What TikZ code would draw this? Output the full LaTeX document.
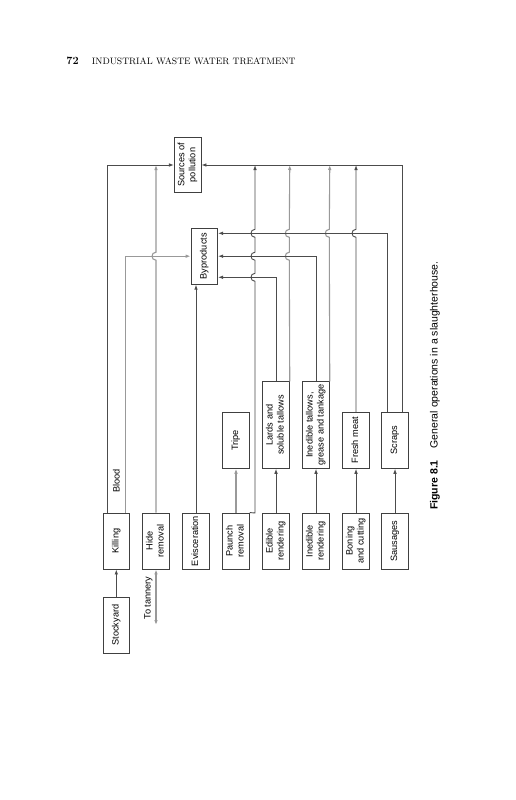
\documentclass[tikz,border=0pt]{standalone}
\usepackage{fontspec}
\usepackage{graphicx}
\newfontfamily\lsans{Liberation Sans}
\usetikzlibrary{arrows.meta,calc}
\newcommand\rt[1]{\rotatebox{90}{\begin{tabular}{@{}c@{}}#1\end{tabular}}}
\newcommand\brg[2]{-- (#1,#2+4) .. controls (#1-5.3,#2+4) and (#1-5.3,#2-4) .. (#1,#2-4)}
\begin{document}
\begin{tikzpicture}[x=1pt,y=-1pt,
  box/.style={draw=black!75, line width=0.9pt, minimum width=26.6pt, minimum height=56pt, inner sep=0pt, font=\lsans\fontsize{9.2}{11}\selectfont},
  ln/.style={draw=black!70, line width=0.9pt},
  lt/.style={draw=black!40, line width=1.1pt},
  arr/.style={-{Latex[length=5pt,width=3.6pt]}},
  lbl/.style={font=\lsans\fontsize{9.2}{11}\selectfont, rotate=90, inner sep=0pt},
]
\useasboundingbox[fill=white] (0,0) rectangle (516,800);

% header
\node[anchor=base west, inner sep=0pt] (pg) at (66.2,65) {\fontsize{11}{13}\selectfont\bfseries 72};
\node[anchor=base west, inner sep=0pt] (hd) at (91.7,65) {\fontsize{9.3}{11}\selectfont INDUSTRIAL WASTE WATER TREATMENT};

% boxes
\node[box] (stock) at (116.3,625) {\rt{Stockyard}};
\node[box] (kill) at (116.3,541) {\rt{Killing}};
\node[box] (hide) at (156,541) {\rt{Hide\\removal}};
\node[box] (evis) at (196,541) {\rt{Evisceration}};
\node[box] (paunch) at (236,541) {\rt{Paunch\\removal}};
\node[box] (edible) at (276,541) {\rt{Edible\\rendering}};
\node[box] (inedr) at (316,541) {\rt{Inedible\\rendering}};
\node[box] (boning) at (356,541) {\rt{Boning\\and cutting}};
\node[box] (saus) at (395,541) {\rt{Sausages}};
\node[box] (tripe) at (236,440.3) {\rt{Tripe}};
\node[box, minimum height=86.6pt] (lards) at (276,425) {\rt{Lards and\\soluble tallows}};
\node[box, minimum height=86.6pt] (inedt) at (316,425) {\rt{Inedible tallows,\\grease and tankage}};
\node[box] (fresh) at (356,440.3) {\rt{Fresh meat}};
\node[box] (scraps) at (395,440.3) {\rt{Scraps}};
\node[box] (byp) at (204.3,256.2) {\rt{Byproducts}};
\node[box, minimum height=55.4pt] (src) at (187.7,165) {\rt{Sources of\\pollution}};

\coordinate (bA) at ($(byp.east)+(0,-22.9)$);
\coordinate (bC) at ($(byp.east)+(0,21.1)$);
\coordinate (tan) at (156,625);

% labels
\node[lbl] (blood) at (116.3,481) {Blood};
\node[lbl] (tanl) at (148.5,598) {To tannery};

% connectors
\draw[ln,arr] (stock) -- (kill);
\draw[ln,arr] ($(kill.north west)+(4.4,0)$) |- (src.west);
\draw[lt,arr] ($(kill.north east)+(-4.3,0)$) |- (byp.west);
\draw[lt,arr] (hide.north) \brg{156}{256.2} -- (hide.north |- src);
\draw[lt,{Latex[length=5pt,width=3.6pt]}-{Latex[length=5pt,width=3.6pt]}] (hide.south) -- (tan);
\draw[ln,arr] (evis.north) -- (evis.north |- byp.south);
\draw[lt,arr] (paunch) -- (tripe);
\draw[ln,arr] (paunch.north east) -- (255,513) \brg{255}{277.3} \brg{255}{256.2} \brg{255}{233.3} -- (255,165);
\draw[ln,arr] (edible) -- (lards);
\draw[ln,arr] (lards.north) |- (bC);
\draw[lt,arr] (lards.north east) \brg{289.3}{256.2} \brg{289.3}{233.3} -- (lards.north east |- src);
\draw[ln,arr] (inedr) -- (inedt);
\draw[ln,arr] (inedt.north) |- (byp.east);
\draw[lt,arr] (inedt.north east) \brg{329.3}{233.3} -- (inedt.north east |- src);
\draw[ln,arr] (boning) -- (fresh);
\draw[ln,arr] (fresh.north) \brg{356}{233.3} -- (fresh.north |- src);
\draw[ln,arr] (saus) -- (scraps);
\draw[ln,arr] ($(scraps.north west)+(6.6,0)$) |- (bA);
\draw[ln,arr] ($(scraps.north east)+(-6,0)$) |- (src.east);

% caption
\node[rotate=90, anchor=base west, inner sep=0pt, font=\lsans\fontsize{10.5}{12}\selectfont] (cap) at (437.5,510) {\textbf{Figure 8.1}\hspace{12pt}General operations in a slaughterhouse.};
\end{tikzpicture}
\end{document}
